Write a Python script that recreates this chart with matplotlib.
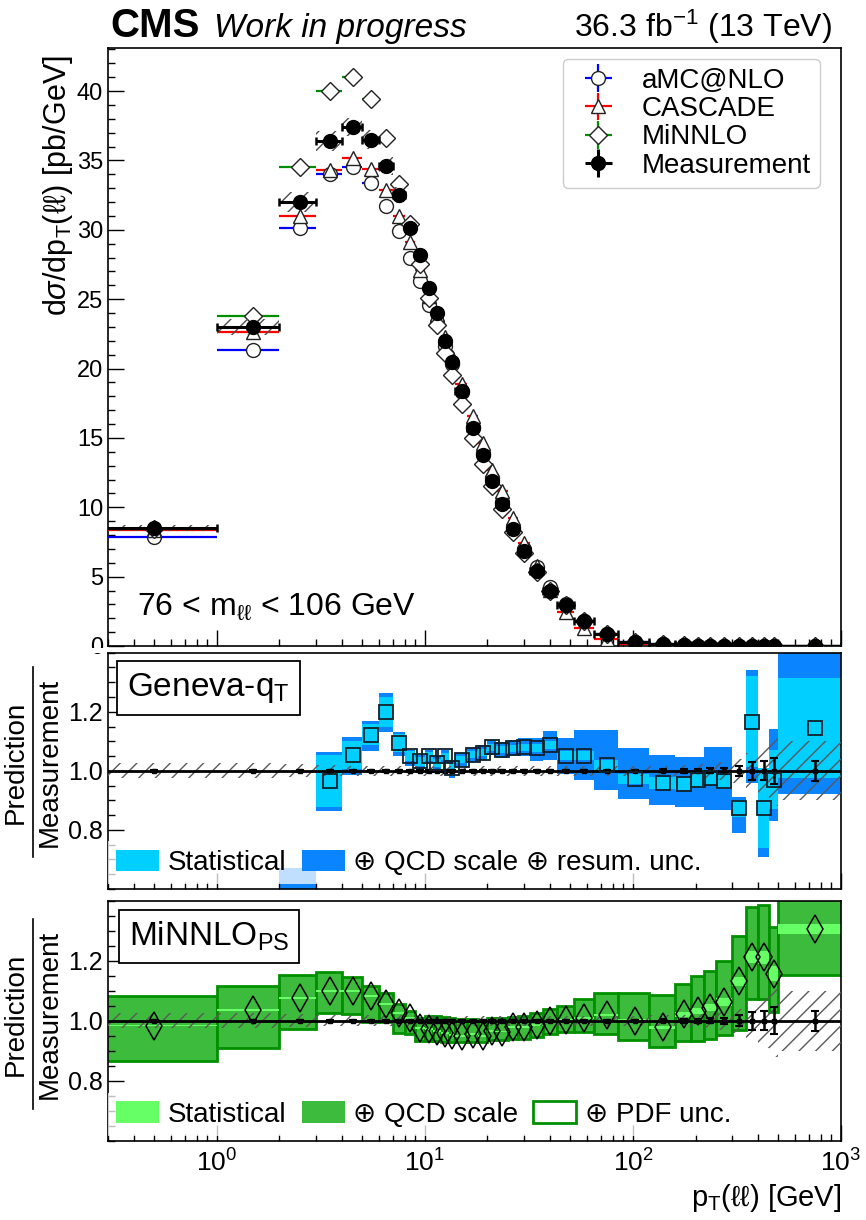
import numpy as np
import matplotlib
matplotlib.use('Agg')
import matplotlib.pyplot as plt
from matplotlib.patches import Patch, Rectangle
from matplotlib.lines import Line2D
from matplotlib.ticker import LogLocator, MultipleLocator, FixedLocator, NullFormatter, FormatStrFormatter

plt.rcParams['font.family'] = ['Liberation Sans', 'DejaVu Sans']
plt.rcParams['mathtext.fontset'] = 'custom'
plt.rcParams['mathtext.rm'] = 'Liberation Sans'
plt.rcParams['mathtext.it'] = 'Liberation Sans:italic'
plt.rcParams['mathtext.bf'] = 'Liberation Sans:bold'
plt.rcParams['hatch.linewidth'] = 1.0

# pT(ll) bin edges [GeV]
edges = np.array([0, 1, 2, 3, 4, 5, 6, 7, 8, 9, 10, 11, 12, 13, 14, 16, 18, 20, 22, 25, 28,
                  32, 37, 43, 52, 65, 85, 120, 160, 190, 220, 250, 300, 350, 400, 450, 500, 1000])

# dsigma/dpT [pb/GeV]
meas = np.array([8.5, 23.0, 32.0, 36.4, 37.4, 36.5, 34.6, 32.5, 30.1, 28.2, 25.8, 24.0, 22.0, 20.5,
                 18.4, 15.7, 13.8, 11.9, 10.2, 8.4, 6.85, 5.4, 4.0, 2.95, 1.8, 0.87, 0.32, 0.12,
                 0.06, 0.035, 0.022, 0.013, 0.007, 0.004, 0.0025, 0.0015, 0.0004])
amcnlo = np.array([7.85, 21.3, 30.1, 34.0, 34.5, 33.4, 31.7, 29.9, 28.0, 26.3, 24.6, 23.3, 21.6, 20.3,
                   18.3, 15.8, 13.9, 12.1, 10.4, 8.6, 7.0, 5.7, 4.25, 3.0, 1.8, 0.85, 0.31, 0.115,
                   0.058, 0.034, 0.021, 0.012, 0.0065, 0.0037, 0.0024, 0.0014, 0.0004])
cascade = np.array([8.35, 22.6, 31.0, 34.3, 35.2, 34.4, 32.9, 31.0, 29.1, 27.1, 25.2, 23.9, 22.3, 20.8,
                    18.85, 16.6, 14.6, 12.7, 11.2, 9.2, 7.4, 5.8, 4.05, 2.45, 1.3, 0.5, 0.18, 0.07,
                    0.035, 0.02, 0.012, 0.007, 0.004, 0.0023, 0.0015, 0.0009, 0.0003])
minnlo = np.array([8.4, 23.75, 34.5, 40.0, 41.0, 39.4, 36.6, 33.3, 30.4, 27.5, 25.1, 23.1, 21.1, 19.5,
                   17.45, 15.0, 13.1, 11.5, 9.85, 8.2, 6.7, 5.3, 4.0, 2.97, 1.82, 0.88, 0.32, 0.117,
                   0.061, 0.036, 0.023, 0.014, 0.0079, 0.0048, 0.003, 0.0017, 0.0005])

# relative uncertainties of the measurement
meas_stat = np.array([0.003] * 26 + [0.004, 0.005, 0.006, 0.007, 0.008, 0.01, 0.018, 0.03, 0.032, 0.045, 0.033])
meas_tot = np.array([0.025, 0.025, 0.022, 0.019, 0.018, 0.018, 0.018, 0.018, 0.017, 0.017, 0.016, 0.016,
                     0.016, 0.016, 0.016, 0.016, 0.016, 0.016, 0.016, 0.016, 0.016, 0.016, 0.016, 0.016,
                     0.016, 0.017, 0.017, 0.018, 0.02, 0.022, 0.025, 0.03, 0.04, 0.06, 0.09, 0.12, 0.10])

# Geneva-qT / measurement
nan = np.nan
geneva = np.array([nan, nan, 0.5, 0.964, 1.054, 1.122, 1.2, 1.095, 1.05, 1.032, 1.049, 1.027, 1.049,
                   1.009, 1.037, 1.054, 1.062, 1.08, 1.071, 1.077, 1.08, 1.077, 1.088, 1.051, 1.051,
                   1.02, 0.972, 0.96, 0.956, 0.97, 0.977, 0.966, 0.873, 1.167, 0.873, 0.97, 1.145])
geneva_stat = np.array([nan, nan, 0.095, 0.088, 0.048, 0.036, 0.051, 0.03, 0.018, 0.015, 0.014, 0.013,
                        0.013, 0.013, 0.012, 0.012, 0.012, 0.012, 0.012, 0.012, 0.012, 0.013, 0.014,
                        0.015, 0.015, 0.016, 0.018, 0.02, 0.022, 0.024, 0.026, 0.028, 0.03, 0.155,
                        0.135, 0.1, 0.17])
geneva_lo = np.array([nan, nan, 0.38, 0.865, 0.986, 1.068, 1.13, 1.049, 1.017, 1.005, 1.025, 1.005,
                      1.025, 0.976, 1.012, 1.03, 1.038, 1.055, 1.045, 1.05, 1.05, 1.032, 1.037, 0.99,
                      0.97, 0.936, 0.904, 0.885, 0.879, 0.879, 0.868, 0.868, 0.789, 0.96, 0.707, 0.83,
                      0.92])
geneva_hi = np.array([nan, nan, 0.67, 1.065, 1.114, 1.17, 1.265, 1.133, 1.071, 1.055, 1.07, 1.05,
                      1.07, 1.037, 1.06, 1.078, 1.087, 1.105, 1.097, 1.104, 1.11, 1.112, 1.136, 1.11,
                      1.137, 1.137, 1.077, 1.052, 1.046, 1.046, 1.082, 1.082, 0.913, 1.34, 1.0, 1.14,
                      1.45])

# MiNNLO_PS / measurement
minnlo_r = np.array([0.984, 1.035, 1.077, 1.098, 1.098, 1.082, 1.057, 1.026, 1.008, 0.975, 0.973,
                     0.965, 0.96, 0.952, 0.949, 0.956, 0.949, 0.967, 0.964, 0.978, 0.978, 0.986, 1.0,
                     1.003, 1.008, 1.018, 1.0, 0.978, 1.022, 1.033, 1.044, 1.062, 1.131, 1.211, 1.211,
                     1.156, 1.306])
minnlo_stat = np.array([0.003] * 26 + [0.005, 0.006, 0.008, 0.01, 0.012, 0.014, 0.016, 0.02, 0.022, 0.025, 0.018])
minnlo_lo = np.array([0.866, 0.91, 0.973, 1.027, 1.022, 0.995, 0.995, 0.96, 0.956, 0.934, 0.934, 0.932,
                      0.93, 0.928, 0.929, 0.93, 0.929, 0.935, 0.935, 0.94, 0.94, 0.946, 0.956, 0.962,
                      0.962, 0.956, 0.937, 0.913, 0.934, 0.934, 0.94, 0.953, 0.97, 1.073, 1.073, 1.028,
                      1.153])
minnlo_hi = np.array([1.082, 1.115, 1.153, 1.164, 1.146, 1.117, 1.091, 1.055, 1.033, 1.008, 1.015,
                      1.015, 1.012, 1.01, 1.006, 1.006, 1.0, 1.008, 1.01, 1.013, 1.015, 1.026, 1.038,
                      1.049, 1.071, 1.093, 1.091, 1.085, 1.124, 1.148, 1.166, 1.199, 1.284, 1.38,
                      1.386, 1.311, 1.45])

# ---------------------------------------------------------------- layout
W, H = 866, 1220
fig = plt.figure(figsize=(W / 100, H / 100), dpi=100)

def fx(px):
    return px / W

def fy(py):
    return 1 - py / H

L, R = 108, 841
ax1 = fig.add_axes([fx(L), fy(646), fx(R) - fx(L), fy(48) - fy(646)])
ax2 = fig.add_axes([fx(L), fy(889), fx(R) - fx(L), fy(652.7) - fy(889)])
ax3 = fig.add_axes([fx(L), fy(1140.7), fx(R) - fx(L), fy(900.7) - fy(1140.7)])

lo = np.maximum(edges[:-1], 0.01)
hi = edges[1:].astype(float)
xc = 0.5 * (edges[:-1] + edges[1:])
wid = hi - lo
xerr = [xc - lo, hi - xc]

for ax in (ax1, ax2, ax3):
    ax.set_xscale('log')
    ax.set_xlim(0.3, 1000)
    ax.xaxis.set_major_locator(LogLocator(base=10, numticks=10))
    ax.xaxis.set_minor_locator(LogLocator(base=10, subs=np.arange(2, 10), numticks=20))
    ax.xaxis.set_minor_formatter(NullFormatter())
    ax.tick_params(which='both', direction='in', top=False, right=False, width=1.0)
    ax.tick_params(which='major', length=11.5)
    ax.tick_params(which='minor', length=5)
    for s in ax.spines.values():
        s.set_linewidth(1.2)

# ---------------------------------------------------------------- top panel
ax1.set_ylim(0, 43.1)
ax1.yaxis.set_major_locator(MultipleLocator(5))
ax1.yaxis.set_minor_locator(MultipleLocator(1))
ax1.tick_params(labelbottom=False, labelsize=17)

model_style = dict(mfc='white', mec='#222222', mew=1.0, ms=10, elinewidth=1.6, capsize=0, ls='none')
dia_style = {**model_style, 'ms': 9.5}
ax1.errorbar(xc, amcnlo, xerr=xerr, fmt='o', color='#0000ff', zorder=3, **model_style)
ax1.errorbar(xc, cascade, xerr=xerr, fmt='^', color='#ff0000', zorder=3, **model_style)
ax1.errorbar(xc, minnlo, xerr=xerr, fmt='D', color='#008f00', zorder=3, **dia_style)
ax1.bar(lo, 2 * meas * meas_tot, width=wid, bottom=meas * (1 - meas_tot), align='edge',
        fill=False, hatch='//', edgecolor='0.3', linewidth=0, zorder=4)
ax1.errorbar(xc, meas, xerr=xerr, yerr=meas * meas_stat, fmt='o', color='black', ms=10,
             elinewidth=2.2, capsize=3, capthick=1.8, zorder=5)

# legend proxies
h_amc = ax1.errorbar([], [], xerr=[], yerr=[], fmt='o', color='#0000ff', **model_style)
h_cas = ax1.errorbar([], [], xerr=[], yerr=[], fmt='^', color='#ff0000', **model_style)
h_min = ax1.errorbar([], [], xerr=[], yerr=[], fmt='D', color='#008f00', **dia_style)
h_mea = ax1.errorbar([], [], xerr=[], yerr=[], fmt='o', color='black', ms=10, elinewidth=2.2,
                     capsize=3, capthick=1.8)
leg = ax1.legend([h_amc, h_cas, h_min, h_mea], ['aMC@NLO', 'CASCADE', 'MiNNLO', 'Measurement'],
                 loc='upper right', bbox_to_anchor=(0.971, 0.982), borderaxespad=0, fontsize=20,
                 handlelength=1.9, handletextpad=0.6, labelspacing=0.08, borderpad=0.33,
                 fancybox=True, framealpha=1, edgecolor='#cccccc')
leg.get_frame().set_linewidth(1.0)

ax1.set_ylabel(r'd$\sigma$/dp$_\mathrm{T}$(ℓℓ) [pb/GeV]', fontsize=22)
ax1.yaxis.set_label_coords(-0.068, 0.988, transform=ax1.transAxes)
ax1.yaxis.label.set_ha('right')
ax1.yaxis.label.set_va('center')
ax1.text(0.04, 0.052, r'76 < m$_\mathrm{ℓℓ}$ < 106 GeV', transform=ax1.transAxes, fontsize=23,
         va='baseline')

fig.text(fx(110), fy(37), 'CMS', fontsize=29, fontweight='bold', va='baseline')
fig.text(fx(214), fy(37), 'Work in progress', fontsize=24, style='italic', va='baseline')
fig.text(fx(832), fy(37), r'36.3 fb$^{-1}$ (13 TeV)', fontsize=23, ha='right', va='baseline')

# hide the lower half of the "0" label like the lower pad does
fig.add_artist(Rectangle((0, fy(652.7)), fx(L) - 0.001, fy(647.5) - fy(652.7),
                         transform=fig.transFigure, facecolor='white', edgecolor='none', zorder=10))


def ratio_common(ax):
    ax.set_ylim(0.6, 1.4)
    ax.yaxis.set_major_locator(FixedLocator([0.8, 1.0, 1.2]))
    ax.yaxis.set_minor_locator(MultipleLocator(0.05))
    ax.yaxis.set_major_formatter(FormatStrFormatter('%.1f'))
    ax.tick_params(axis='y', labelsize=18)
    ax.bar(lo, 2 * meas_tot, width=wid, bottom=1 - meas_tot, align='edge', fill=False,
           hatch='//', edgecolor='0.35', linewidth=0, zorder=4)
    ax.axhline(1.0, color='black', lw=2.0, zorder=5)
    ax.errorbar(xc, np.ones_like(xc), yerr=meas_stat, fmt='s', ms=3, color='black',
                elinewidth=1.8, capsize=3, capthick=1.5, zorder=6)


leg_kw = dict(loc='lower left', bbox_to_anchor=(0, 0.02), borderaxespad=0, fontsize=20,
              handlelength=1.55, handleheight=0.8, handletextpad=0.3, columnspacing=0.55,
              borderpad=0.3, frameon=True, fancybox=False, facecolor='white', edgecolor='none',
              framealpha=0.75)

# ---------------------------------------------------------------- Geneva panel
ratio_common(ax2)
ax2.tick_params(labelbottom=False)
ax2.bar(lo, geneva_hi - geneva_lo, width=wid, bottom=geneva_lo, align='edge', color='#0a84ff',
        linewidth=0, zorder=1)
ax2.bar(lo, 2 * geneva_stat, width=wid, bottom=geneva - geneva_stat, align='edge', color='#00cfff',
        linewidth=0, zorder=2)
ax2.plot(xc, geneva, 's', mfc='none', mec='#10202a', mew=1.3, ms=10.5, zorder=7)
ax2.text(0.026, 0.85, r'Geneva-q$_\mathrm{T}$', transform=ax2.transAxes, fontsize=24, va='center',
         bbox=dict(boxstyle='square,pad=0.3', fc='white', ec='black', lw=1.3), zorder=9)
lg2 = ax2.legend([Patch(fc='#00cfff', lw=0), Patch(fc='#0a84ff', lw=0)],
                 ['Statistical', '⊕ QCD scale ⊕ resum. unc.'], ncol=2, **leg_kw)
lg2.set_zorder(8)

# ---------------------------------------------------------------- MiNNLO panel
ratio_common(ax3)
ax3.tick_params(axis='x', labelsize=19, pad=6)
ax3.bar(lo, minnlo_hi - minnlo_lo, width=wid, bottom=minnlo_lo, align='edge', facecolor='#3dbb3d',
        edgecolor='#009000', linewidth=2.0, zorder=1)
ax3.bar(lo, 2 * minnlo_stat, width=wid, bottom=minnlo_r - minnlo_stat, align='edge', color='#66ff66',
        linewidth=0, zorder=2)
ax3.plot(xc, minnlo_r, 'd', mfc='none', mec='black', mew=1.1, ms=14, zorder=7)
ax3.text(0.028, 0.85, r'MiNNLO$_\mathrm{PS}$', transform=ax3.transAxes, fontsize=24, va='center',
         bbox=dict(boxstyle='square,pad=0.3', fc='white', ec='black', lw=1.3), zorder=9)
lg3 = ax3.legend([Patch(fc='#66ff66', lw=0), Patch(fc='#3dbb3d', lw=0),
                  Patch(fc='white', ec='#009000', lw=2)],
                 ['Statistical', '⊕ QCD scale', '⊕ PDF unc.'], ncol=3, **leg_kw)
lg3.set_zorder(8)
ax3.set_xlabel(r'p$_\mathrm{T}$(ℓℓ) [GeV]', fontsize=21, loc='right', labelpad=4)

# ratio y labels drawn as a fraction
for yc in (762, 1014):
    fig.text(fx(16), fy(yc), 'Prediction', rotation=90, fontsize=20, ha='center', va='center')
    fig.text(fx(50), fy(yc), 'Measurement', rotation=90, fontsize=20, ha='center', va='center')
    fig.add_artist(Line2D([fx(33), fx(33)], [fy(yc + 95), fy(yc - 95)], color='black', lw=1.2))

fig.savefig('out.png', dpi=100)
